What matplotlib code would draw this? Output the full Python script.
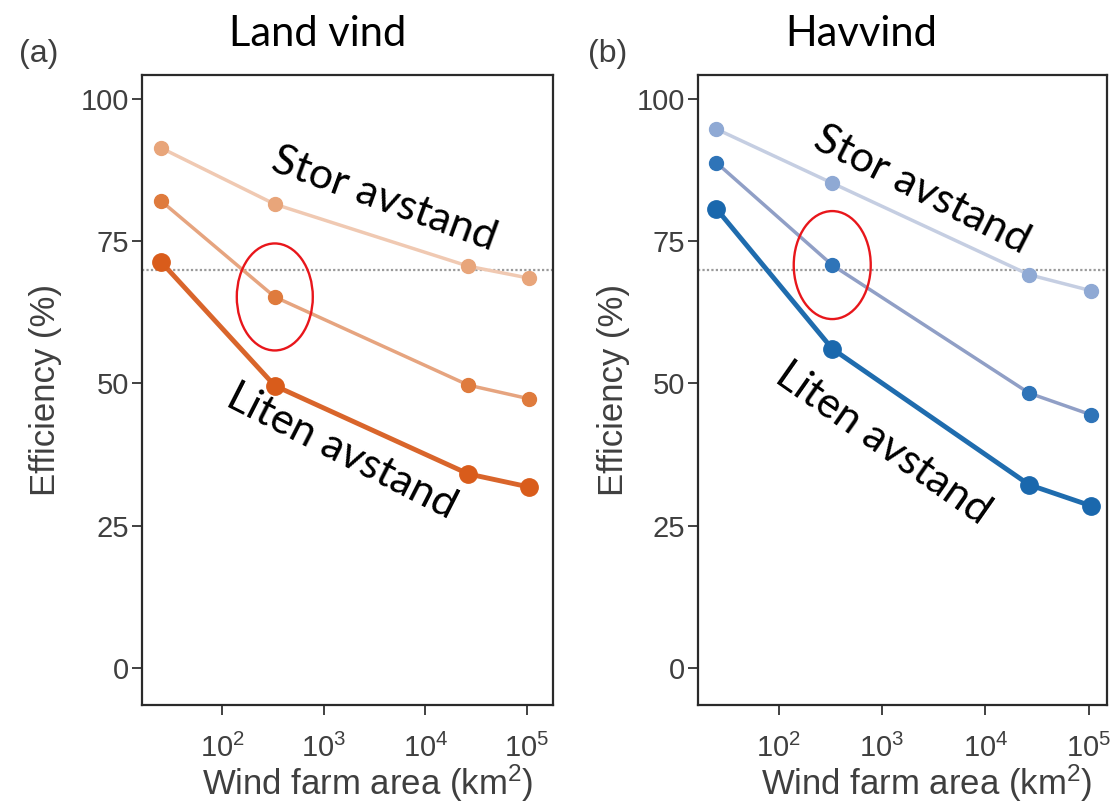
import numpy as np
import matplotlib
matplotlib.use('Agg')
from matplotlib import pyplot as plt
from matplotlib.patches import Ellipse

plt.rcParams['font.family'] = ['Liberation Sans', 'DejaVu Sans']
plt.rcParams['mathtext.default'] = 'regular'

#Data
area = [25, 330, 26500, 105000]

land_far = [91.4, 81.5, 70.6, 68.5]
land_mid = [82.1, 65.2, 49.7, 47.3]
land_near = [71.4, 49.6, 34.1, 31.8]

sea_far = [94.7, 85.2, 69.1, 66.3]
sea_mid = [88.8, 70.8, 48.3, 44.5]
sea_near = [80.7, 56.1, 32.2, 28.5]

y_ticks = [0, 25, 50, 75, 100]
x_ticks = [1e2, 1e3, 1e4, 1e5]
threshold = 70

#Plotting
fig = plt.figure(figsize=(11.13, 8.02), dpi=100)
ax1 = fig.add_axes([142 / 1113, 97 / 802, 411 / 1113, 630 / 802])
ax2 = fig.add_axes([698 / 1113, 97 / 802, 409 / 1113, 630 / 802])

land_style = [
    (land_far, '#E8A57A', '#F0C9B2', 2.5, 10),
    (land_mid, '#DF7B3D', '#E6A47F', 2.5, 10),
    (land_near, '#D95C1B', '#D9652B', 3.5, 12.5),
]
sea_style = [
    (sea_far, '#8FA9D4', '#C5CEE2', 2.5, 10),
    (sea_mid, '#2F74B8', '#909FC6', 2.5, 10),
    (sea_near, '#1A68AD', '#1F6CAE', 3.5, 12.5),
]


def ring(ax, x, y, w_px, h_px):
    cx, cy = ax.transAxes.inverted().transform(ax.transData.transform((x, y)))
    bb = ax.get_window_extent()
    ax.add_patch(Ellipse((cx, cy), w_px / bb.width, h_px / bb.height,
                         transform=ax.transAxes, fill=False, ec='#E8161B',
                         lw=1.7, zorder=5))


for ax, styles, xlim in [(ax1, land_style, (16.3, 1.8e5)), (ax2, sea_style, (16.6, 1.5e5))]:
    ax.axhline(threshold, color='#9A9A9A', ls=(0, (1, 1)), lw=1.6, zorder=1)
    for vals, mcol, lcol, lw, ms in styles:
        ax.plot(area, vals, color=lcol, lw=lw, zorder=2)
        ax.plot(area, vals, 'o', color=mcol, ms=ms, mec=mcol, zorder=3)
    ax.set_xscale('log')
    ax.set_xlim(*xlim)
    ax.set_ylim(-6.5, 104.2)
    ax.set_xticks(x_ticks)
    ax.minorticks_off()
    ax.set_yticks(y_ticks)
    ax.tick_params(axis='both', labelsize=21, labelcolor='#3F3F3F', color='#333333',
                   length=7, width=1.3, direction='out')
    ax.tick_params(axis='x', pad=14)
    ax.tick_params(axis='y', pad=2)
    for s in ax.spines.values():
        s.set_linewidth(1.6)
        s.set_color('#2A2A2A')
    ax.set_ylabel('Efficiency (%)', fontsize=25, color='#3F3F3F')
    ax.set_xlabel('Wind farm area (km$^2$)', fontsize=25, color='#3F3F3F')
    ax.xaxis.label.set_va('center')

ax1.yaxis.set_label_coords(-0.195, 0.5)
ax2.yaxis.set_label_coords(-0.166, 0.5)
ax1.xaxis.set_label_coords(0.55, -0.124)
ax2.xaxis.set_label_coords(0.56, -0.124)

ring(ax1, area[1], land_mid[1], 76, 107)
ring(ax2, area[1], sea_mid[1], 77, 108)

# titles and panel letters
fig.text(318 / 1113, 1 - 34 / 802, 'Land vind', family='Lato', fontsize=30, ha='center', va='center')
fig.text(861 / 1113, 1 - 34 / 802, 'Havvind', family='Lato', fontsize=30, ha='center', va='center')
fig.text(39 / 1113, 1 - 54 / 802, '(a)', fontsize=23, color='#3F3F3F', ha='center', va='center')
fig.text(608 / 1113, 1 - 54 / 802, '(b)', fontsize=23, color='#3F3F3F', ha='center', va='center')

# rotated annotations
notes = [
    ('Stor avstand', 384, 199, -20),
    ('Liten avstand', 342, 452, -27),
    ('Stor avstand', 922, 190, -27),
    ('Liten avstand', 883, 443, -35),
]
for txt, x, y, rot in notes:
    fig.text(x / 1113, 1 - y / 802, txt, family='Lato', fontsize=31, rotation=rot,
             rotation_mode='anchor', ha='center', va='center')

plt.savefig('out.png', dpi=100)
